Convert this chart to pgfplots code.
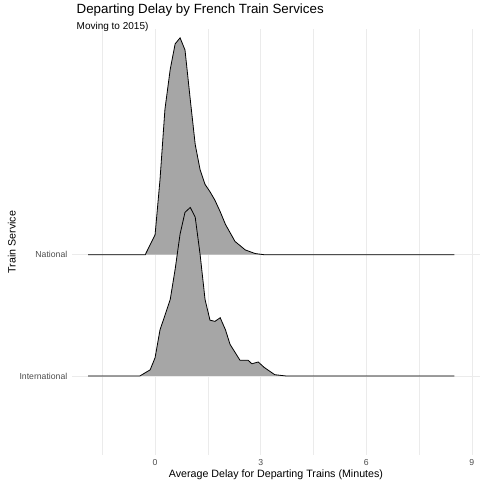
\documentclass[border=0pt]{standalone}
\usepackage{pgfplots}
\pgfplotsset{compat=1.18}
\usepackage{fontspec}
\setmainfont{Liberation Sans}
\definecolor{ridge}{HTML}{A6A6A6}
\definecolor{gridc}{HTML}{EBEBEB}
\begin{document}
\begin{tikzpicture}
\path[use as bounding box] (-54pt,-19pt) rectangle (306pt,341pt);
\begin{axis}[
  scale only axis, width=306pt, height=319pt,
  xmin=-2.36, xmax=9.23, ymin=0.35, ymax=3.86,
  axis line style={draw=none}, tick style={draw=none},
  xtick={0,3,6,9}, minor xtick={-1.5,1.5,4.5,7.5},
  ytick={1,2}, yticklabels={International,National},
  xmajorgrids, xminorgrids, ymajorgrids,
  major grid style={gridc, line width=0.6pt},
  minor grid style={gridc, line width=0.3pt},
  ticklabel style={font=\fontsize{6.5}{7}\selectfont, text=black!70},
  /pgf/number format/assume math mode=true,
  xlabel={Average Delay for Departing Trains (Minutes)},
  ylabel={Train Service},
  label style={font=\fontsize{8}{9}\selectfont},
  xlabel style={yshift=4pt}, ylabel style={yshift=-4pt},
  clip=false,
]
\addplot[fill=ridge, draw=black, line width=0.6pt] coordinates {
(-1.9,2) (-0.28,2) (0,2.165) (0.14,2.62) (0.28,3.20) (0.43,3.53) (0.57,3.74) (0.71,3.79) (0.85,3.69) (1.0,3.28) (1.14,2.91) (1.28,2.70) (1.42,2.58) (1.56,2.52) (1.7,2.45) (1.85,2.355) (2.0,2.25) (2.27,2.11) (2.56,2.04) (2.84,2.01) (3.1,2) (8.5,2)};
\addplot[fill=ridge, draw=black, line width=0.6pt] coordinates {
(-1.9,1) (-0.43,1) (-0.14,1.05) (0,1.15) (0.14,1.38) (0.28,1.50) (0.43,1.63) (0.57,1.88) (0.71,2.17) (0.85,2.35) (1.0,2.39) (1.14,2.31) (1.28,2.00) (1.42,1.63) (1.56,1.46) (1.7,1.45) (1.85,1.48) (2.0,1.38) (2.13,1.26) (2.41,1.13) (2.64,1.13) (2.75,1.10) (2.93,1.115) (3.1,1.07) (3.4,1.01) (3.7,1) (8.5,1)};
\end{axis}
\node[anchor=base west, font=\fontsize{10}{12}\selectfont] at (0pt,331pt) {Departing Delay by French Train Services};
\node[anchor=base west, font=\fontsize{7.5}{9}\selectfont] at (0pt,319pt) {Moving to 2015)};
\end{tikzpicture}
\end{document}
